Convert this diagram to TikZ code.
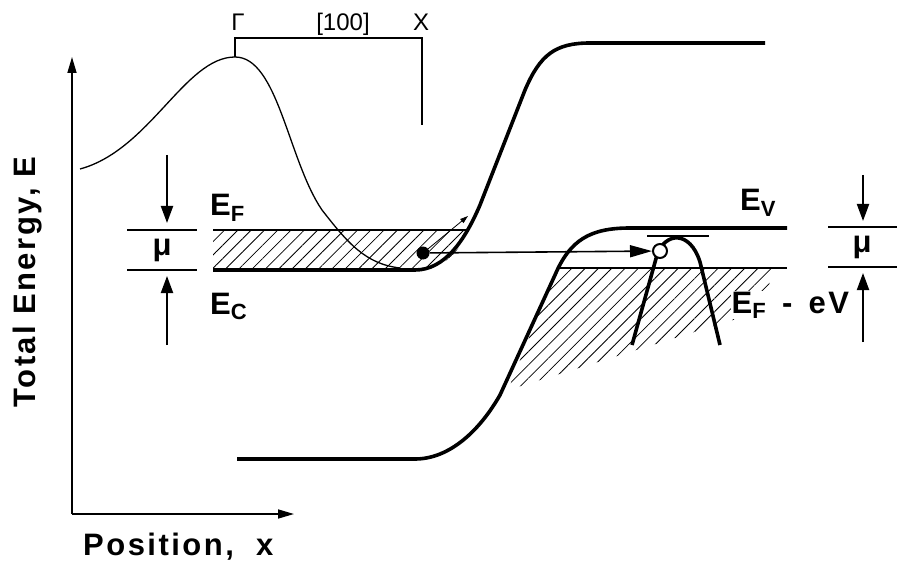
\documentclass[tikz,border=0pt]{standalone}
\usepackage{fontspec}
\setmainfont{Liberation Sans}
\usetikzlibrary{arrows.meta,patterns.meta}
\newcommand{\bigfont}{\fontsize{31}{34}\selectfont\bfseries\addfontfeature{LetterSpace=8}}
\newcommand{\subfont}{\fontsize{22}{22}\selectfont\bfseries}
\newcommand{\lvl}[2]{#1\raisebox{-0.35ex}{\subfont #2}}
\tikzset{
  band/.style={line width=3.6pt, line join=round},
  level/.style={line width=2.6pt},
  thincurve/.style={line width=1.3pt},
  axis/.style={line width=1.6pt, -{Triangle[length=16pt,width=9pt]}},
  muarrow/.style={line width=2pt, -{Triangle[length=17pt,width=12pt]}},
  transfer/.style={line width=1.6pt, -{Triangle[length=22pt,width=12pt]}},
  hatch/.style={pattern={Lines[angle=45,distance=9.4pt,line width=0.8pt]}},
  lbl/.style={inner sep=0pt, font=\bigfont},
  toplbl/.style={inner sep=0pt, font=\fontsize{24}{24}\selectfont}
}

\begin{document}
\begin{tikzpicture}[x=1pt,y=-1pt]
  \useasboundingbox (0,0) rectangle (901,561);

  % axes
  \coordinate (origin) at (72,514);
  \coordinate (etop) at (72,57);
  \coordinate (xend) at (294,514);
  \draw[axis] (origin) -- (etop);
  \draw[axis] (origin) -- (xend);
  \node[lbl, rotate=90] (elabel) at (28,282) {Total Energy, E};
  \node[lbl, anchor=base west] (xlabel) at (83,555) {Position,\ \ x};

  % hatched filled states
  \fill[hatch] (213,230) -- (468,230) .. controls (458,256) and (440,270) .. (415,270) -- (213,270) -- cycle;
  \fill[hatch] (508,390) -- (557,268) -- (772,268) -- (765,310) -- cycle;

  % left electrode bands
  \draw[level] (213,230) -- (468,230);
  \draw[band] (213,270) -- (415,270) .. controls (445,270) and (465,240) .. (480,205)
    -- (525,90) .. controls (540,55) and (555,43) .. (590,43) -- (765,43);

  % right electrode bands
  \draw[level] (557,268) -- (787,268);
  \draw[band] (237,459) -- (415,459) .. controls (450,459) and (480,430) .. (500,395)
    -- (555,275) .. controls (570,240) and (590,228) .. (630,228) -- (787,228);

  % thin curve and bracket
  \draw[thincurve] (80,169) .. controls (150,150) and (185,57) .. (235,57)
    .. controls (278,57) and (288,160) .. (322,210) .. controls (347,242) and (365,264) .. (400,268);
  \draw[thincurve] (235,57) -- (235,38) -- (422,38) -- (422,125);
  \node[toplbl, anchor=base] (gamma) at (238,31) {Γ};
  \node[toplbl, anchor=base] (dir) at (343,31) {[100]};
  \node[toplbl, anchor=base] (xpt) at (421,31) {X};

  % adsorbate band
  \draw[band] (632,345) -- (657,255) .. controls (665,232) and (690,230) .. (700,262) -- (720,345);
  \draw[level] (647,236) -- (709,236);

  % electron and hole
  \node[circle, fill=black, inner sep=0pt, minimum size=13pt] (electron) at (423,253) {};
  \node[circle, draw, fill=white, line width=2pt, inner sep=0pt, minimum size=14pt] (hole) at (660,251) {};
  \coordinate (escape) at (468,216);
  \draw[line width=0.8pt, -{Triangle[length=8pt,width=5pt]}] (electron) -- (escape);
  \draw[transfer] (electron) -- (hole);

  % labels of the levels
  \node[lbl, anchor=base west] (ef) at (210,216) {\lvl{E}{F}};
  \node[lbl, anchor=base west] (ec) at (210,314) {\lvl{E}{C}};
  \node[lbl, anchor=base west] (ev) at (740,211) {\lvl{E}{V}};
  \node[lbl, anchor=base west, fill=white, inner sep=0.5pt] (efev) at (731,313) {\lvl{E}{F}\ \,-\ \,eV};

  % left mu marker
  \draw[level] (127,230) -- (197,230);
  \draw[level] (127,270) -- (197,270);
  \node[lbl] (muleft) at (162,250) {μ};
  \coordinate (lt) at (167,155);
  \coordinate (ltip) at (167,223);
  \coordinate (lb) at (167,345);
  \coordinate (lbip) at (167,276);
  \draw[muarrow] (lt) -- (ltip);
  \draw[muarrow] (lb) -- (lbip);

  % right mu marker
  \draw[level] (828,227) -- (897,227);
  \draw[level] (828,267) -- (897,267);
  \node[lbl] (muright) at (862,247) {μ};
  \coordinate (rt) at (863,175);
  \coordinate (rtip) at (863,221);
  \coordinate (rb) at (863,342);
  \coordinate (rbip) at (863,273);
  \draw[muarrow] (rt) -- (rtip);
  \draw[muarrow] (rb) -- (rbip);
\end{tikzpicture}
\end{document}
